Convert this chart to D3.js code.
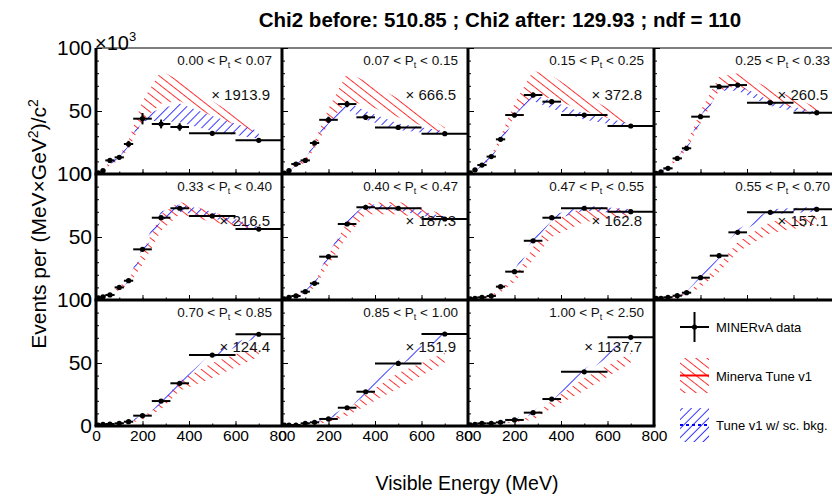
<!DOCTYPE html>
<html lang="en">
<head>
<meta charset="utf-8">
<title>Chi2 panels</title>
<script src="https://cdn.jsdelivr.net/npm/d3@7"></script>
<style>
  body { margin: 0; background: #fff; }
  svg { font-family: "Liberation Sans", Arial, Helvetica, sans-serif; }
</style>
</head>
<body>
<script>
// bins in visible energy (MeV)
var binEdges = [0, 20, 40, 80, 120, 160, 240, 320, 400, 600, 800];
var binCenters = [10, 30, 60, 100, 140, 200, 280, 360, 500, 700];

var ptLow  = ["0.00", "0.07", "0.15", "0.25", "0.33", "0.40", "0.47", "0.55", "0.70", "0.85", "1.00"];
var ptHigh = ["0.07", "0.15", "0.25", "0.33", "0.40", "0.47", "0.55", "0.70", "0.85", "1.00", "2.50"];
var scaleFactors = ["1913.9", "666.5", "372.8", "260.5", "216.5", "187.3", "162.8", "157.1", "124.4", "151.9", "1137.7"];

var xTicks = [0, 200, 400, 600, 800];
var yTicks = [0, 50, 100];

// data (scaled, x10^3)
var dataVals = [
  [1.0, 2.6, 10.8, 13.2, 23.8, 43.9, 39.7, 37.3, 32.3, 26.7],
  [0.8, 2.6, 7.9, 10.8, 24.6, 43.0, 55.5, 45.0, 37.0, 32.0],
  [1.0, 3.2, 7.1, 13.8, 27.5, 46.8, 62.7, 57.4, 46.8, 38.1],
  [0.5, 1.8, 4.5, 12.4, 20.4, 45.5, 69.3, 70.6, 56.6, 48.7],
  [1.8, 2.5, 4.0, 10.0, 15.3, 40.2, 65.3, 72.8, 66.7, 56.3],
  [1.0, 2.1, 3.2, 6.6, 13.2, 34.4, 60.3, 73.6, 72.8, 64.3],
  [1.0, 1.3, 2.1, 3.2, 10.6, 22.5, 47.0, 65.3, 72.8, 70.1],
  [1.3, 1.3, 2.1, 3.4, 5.8, 17.7, 35.2, 53.7, 69.6, 72.0],
  [0.8, 1.3, 1.6, 2.1, 3.4, 8.2, 19.8, 33.9, 56.3, 72.8],
  [0.8, 0.8, 0.8, 2.1, 2.9, 5.6, 14.5, 27.2, 49.7, 73.0],
  [1.0, 1.3, 2.1, 2.1, 2.9, 4.8, 10.6, 21.4, 43.0, 70.4]
];
var dataErrs = [
  [0.5, 1.2, 1.5, 1.5, 2.5, 4.5, 3.5, 3.0, 1.5, 1.5],
  [0.4, 1.0, 1.2, 1.2, 2.0, 2.5, 2.5, 2.0, 1.2, 1.2],
  [0.4, 0.8, 1.0, 1.2, 1.5, 1.8, 2.0, 1.5, 1.0, 1.0],
  [0.3, 0.6, 0.8, 1.0, 1.2, 1.5, 1.5, 1.2, 1.0, 1.0],
  [0.3, 0.6, 0.8, 1.0, 1.2, 1.5, 1.5, 1.2, 1.0, 1.0],
  [0.3, 0.6, 0.8, 1.0, 1.2, 1.5, 1.5, 1.2, 1.0, 1.0],
  [0.3, 0.5, 0.7, 0.8, 1.0, 1.3, 1.5, 1.2, 1.0, 1.0],
  [0.3, 0.5, 0.7, 0.8, 1.0, 1.3, 1.5, 1.2, 1.0, 1.0],
  [0.3, 0.5, 0.6, 0.7, 0.9, 1.2, 1.4, 1.2, 1.0, 1.0],
  [0.3, 0.5, 0.6, 0.7, 0.9, 1.2, 1.4, 1.2, 1.0, 1.0],
  [0.3, 0.5, 0.6, 0.7, 0.9, 1.2, 1.4, 1.2, 1.0, 1.0]
];

// Minerva Tune v1 band (low / high edge)
var tuneLo = [
  [0.5, 2.0, 7.0, 11.0, 20.0, 42.0, 56.0, 58.0, 46.0, 32.0],
  [0.5, 2.0, 6.0, 9.0, 20.0, 40.0, 58.0, 55.0, 45.0, 32.0],
  [0.6, 2.5, 6.0, 12.0, 25.0, 46.0, 62.0, 60.0, 50.0, 39.0],
  [0.3, 1.5, 4.0, 11.0, 19.0, 40.0, 66.0, 70.0, 57.0, 48.0],
  [1.0, 2.0, 3.5, 8.0, 12.0, 28.0, 55.0, 68.0, 62.0, 55.0],
  [0.6, 1.5, 2.5, 5.5, 10.0, 28.0, 50.0, 68.0, 68.0, 62.0],
  [0.5, 1.0, 1.5, 2.5, 6.0, 14.0, 32.0, 50.0, 62.0, 66.0],
  [0.8, 1.0, 1.5, 2.5, 4.0, 10.0, 22.0, 38.0, 53.0, 60.0],
  [0.5, 0.8, 1.0, 1.5, 2.0, 5.0, 13.0, 28.0, 38.0, 55.0],
  [0.4, 0.5, 0.6, 1.2, 1.5, 3.0, 8.0, 16.0, 30.0, 50.0],
  [0.5, 0.8, 1.0, 1.2, 1.5, 3.0, 5.0, 14.0, 28.0, 50.0]
];
var tuneHi = [
  [1.5, 3.5, 10.0, 14.0, 27.0, 58.0, 82.0, 74.0, 58.0, 35.0],
  [1.2, 3.2, 9.0, 12.0, 26.0, 52.0, 80.0, 74.0, 60.0, 37.0],
  [1.2, 3.5, 8.0, 15.0, 30.0, 56.0, 82.0, 78.0, 62.0, 43.0],
  [0.8, 2.5, 6.0, 14.0, 24.0, 50.0, 77.0, 80.0, 68.0, 53.0],
  [1.8, 3.0, 5.0, 11.0, 16.0, 38.0, 68.0, 78.0, 70.0, 58.0],
  [1.2, 2.5, 3.8, 7.5, 14.0, 36.0, 62.0, 77.0, 78.0, 68.0],
  [1.0, 1.6, 2.5, 3.5, 9.0, 18.0, 42.0, 62.0, 74.0, 72.0],
  [1.3, 1.5, 2.2, 3.5, 5.5, 14.0, 28.0, 46.0, 62.0, 68.0],
  [0.9, 1.2, 1.5, 2.2, 3.0, 7.0, 18.0, 36.0, 50.0, 64.0],
  [0.8, 0.9, 1.0, 2.0, 2.5, 5.0, 12.0, 25.0, 42.0, 58.0],
  [0.9, 1.2, 1.6, 1.8, 2.5, 4.0, 8.0, 20.0, 38.0, 58.0]
];

// Tune v1 w/ sc. bkg. band (low / high edge)
var bkgLo = [
  [0.8, 2.2, 8.0, 11.0, 22.0, 42.0, 42.0, 41.0, 34.0, 28.0],
  [0.6, 2.0, 7.0, 10.0, 22.0, 40.0, 51.0, 43.0, 35.0, 31.0],
  [0.6, 2.5, 6.0, 12.0, 25.0, 43.0, 58.0, 52.0, 43.0, 37.0],
  [0.3, 1.5, 4.0, 11.0, 19.0, 41.0, 66.0, 66.0, 54.0, 46.0],
  [1.2, 2.0, 3.5, 9.0, 14.0, 36.0, 63.0, 70.0, 65.0, 55.0],
  [0.8, 1.8, 2.8, 6.0, 12.0, 33.0, 59.0, 72.0, 71.0, 63.0],
  [0.7, 1.1, 1.8, 2.8, 9.0, 21.0, 45.0, 63.0, 71.0, 68.0],
  [1.0, 1.1, 1.8, 3.0, 5.0, 16.0, 33.0, 52.0, 68.0, 70.0],
  [0.6, 1.0, 1.3, 1.8, 3.0, 7.0, 17.0, 32.0, 54.0, 71.0],
  [0.5, 0.6, 0.7, 1.8, 2.5, 5.0, 13.0, 25.0, 47.0, 71.0],
  [0.6, 1.0, 1.7, 1.8, 2.5, 4.3, 9.5, 20.0, 41.0, 68.0]
];
var bkgHi = [
  [1.2, 3.2, 10.0, 13.0, 25.0, 46.0, 52.0, 56.0, 46.0, 34.0],
  [1.0, 3.0, 9.0, 12.0, 25.0, 46.0, 57.0, 50.0, 40.0, 34.0],
  [1.2, 3.5, 8.0, 15.0, 29.0, 47.0, 63.0, 58.0, 48.0, 40.0],
  [0.8, 2.3, 5.5, 13.5, 22.0, 46.0, 70.0, 71.0, 58.0, 49.0],
  [2.0, 3.0, 5.0, 11.0, 17.0, 42.0, 70.0, 76.0, 70.0, 58.0],
  [1.2, 2.5, 3.8, 7.5, 15.0, 37.0, 63.0, 76.0, 75.0, 66.0],
  [1.1, 1.5, 2.4, 3.6, 12.0, 24.0, 49.0, 67.0, 75.0, 72.0],
  [1.4, 1.5, 2.3, 3.7, 6.5, 19.0, 37.0, 56.0, 72.0, 74.0],
  [0.9, 1.4, 1.7, 2.3, 3.8, 9.0, 21.0, 35.0, 58.0, 74.0],
  [0.9, 0.9, 1.0, 2.3, 3.2, 6.5, 16.0, 29.0, 52.0, 75.0],
  [1.0, 1.4, 2.3, 2.3, 3.2, 5.3, 11.5, 23.0, 45.0, 72.0]
];

var w = 832, h = 496;
var left0 = 96, top0 = 48, colW = 186, rowH = 126;

var svg = d3.select("body").append("svg")
    .attr("width", w)
    .attr("height", h);

var defs = svg.append("defs");

// hatch patterns like ROOT fill styles
function hatch(id, color, angle, gap) {
  var p = defs.append("pattern")
      .attr("id", id)
      .attr("patternUnits", "userSpaceOnUse")
      .attr("width", gap)
      .attr("height", gap)
      .attr("patternTransform", "rotate(" + angle + ")");
  p.append("line")
      .attr("x1", gap / 2).attr("y1", 0)
      .attr("x2", gap / 2).attr("y2", gap)
      .attr("stroke", color)
      .attr("stroke-width", 1);
}
hatch("hatchRed", "#ff3030", -52, 6.8);
hatch("hatchBlue", "#3030ff", 45, 6.4);

var x = d3.scaleLinear().domain([0, 800]).range([0, colW]);
var y = d3.scaleLinear().domain([0, 100]).range([rowH, 0]);

var band = d3.area()
    .x(function(d) { return x(d.e); })
    .y0(function(d) { return y(d.lo); })
    .y1(function(d) { return y(d.hi); });

svg.append("clipPath").attr("id", "panelClip")
  .append("rect").attr("x", 0).attr("y", 0).attr("width", colW).attr("height", rowH);

for (var i = 0; i < dataVals.length; i++) {
  var col = i % 4, row = Math.floor(i / 4);
  var g = svg.append("g")
      .attr("transform", "translate(" + (left0 + col * colW) + "," + (top0 + row * rowH) + ")");

  var plot = g.append("g").attr("clip-path", "url(#panelClip)");

  var redPts = binCenters.map(function(e, k) { return {e: e, lo: tuneLo[i][k], hi: tuneHi[i][k]}; });
  var bluePts = binCenters.map(function(e, k) { return {e: e, lo: bkgLo[i][k], hi: bkgHi[i][k]}; });

  plot.append("path").datum(redPts)
      .attr("d", band)
      .attr("fill", "url(#hatchRed)");
  plot.append("path").datum(bluePts)
      .attr("d", band)
      .attr("fill", "url(#hatchBlue)");

  // pt bin label
  var lab = g.append("text")
      .attr("x", colW - 10)
      .attr("y", 17)
      .attr("text-anchor", "end")
      .attr("font-size", 13.5)
      .attr("fill", "#111");
  lab.append("tspan").text(ptLow[i] + " < P");
  lab.append("tspan").attr("font-size", 9).attr("dy", 3).text("t");
  lab.append("tspan").attr("dy", -3).text(" < " + ptHigh[i]);

  g.append("text")
      .attr("x", colW - 12)
      .attr("y", 52)
      .attr("text-anchor", "end")
      .attr("font-size", 15)
      .attr("fill", "#111")
      .text("\u00d7 " + scaleFactors[i]);

  // data points
  var pts = binCenters.map(function(e, k) {
    return {e: e, x0: binEdges[k], x1: binEdges[k + 1], v: dataVals[i][k], err: dataErrs[i][k]};
  });
  var dp = plot.selectAll("g.pt").data(pts).enter().append("g").attr("class", "pt");
  dp.append("line")
      .attr("x1", function(d) { return x(d.x0); })
      .attr("x2", function(d) { return x(d.x1); })
      .attr("y1", function(d) { return y(d.v); })
      .attr("y2", function(d) { return y(d.v); })
      .attr("stroke", "#000").attr("stroke-width", 2);
  dp.append("line")
      .attr("x1", function(d) { return x(d.e); })
      .attr("x2", function(d) { return x(d.e); })
      .attr("y1", function(d) { return y(d.v - d.err); })
      .attr("y2", function(d) { return y(d.v + d.err); })
      .attr("stroke", "#000").attr("stroke-width", 2);
  dp.append("circle")
      .attr("cx", function(d) { return x(d.e); })
      .attr("cy", function(d) { return y(d.v); })
      .attr("r", 2.6)
      .attr("fill", "#000");

  // inward ticks
  var yMinor = g.append("g").call(d3.axisRight(y).tickValues(d3.range(0, 101, 10)).tickSize(3).tickFormat(""));
  var yMajor = g.append("g").call(d3.axisRight(y).tickValues(yTicks).tickSize(6).tickFormat(""));
  var xMinor = g.append("g").attr("transform", "translate(0," + rowH + ")")
      .call(d3.axisTop(x).tickValues(d3.range(0, 801, 100)).tickSize(2.5).tickFormat(""));
  var xMajor = g.append("g").attr("transform", "translate(0," + rowH + ")")
      .call(d3.axisTop(x).tickValues(xTicks).tickSize(5).tickFormat(""));
  [yMinor, yMajor, xMinor, xMajor].forEach(function(a) {
    a.select(".domain").remove();
    a.selectAll("line").attr("stroke", "#000");
  });

  if (col === 0) {
    var yl = g.append("g").call(d3.axisLeft(y).tickValues(yTicks).tickSize(0).tickPadding(4));
    yl.select(".domain").remove();
    yl.selectAll("text").attr("font-size", 21).attr("font-family", "Liberation Sans, Arial, sans-serif").attr("fill", "#000");
  }
  if (row === 2) {
    var xl = g.append("g").attr("transform", "translate(0," + rowH + ")")
        .call(d3.axisBottom(x).tickValues(xTicks).tickSize(0).tickPadding(4));
    xl.select(".domain").remove();
    xl.selectAll("text").attr("font-size", 15.5).attr("font-family", "Liberation Sans, Arial, sans-serif").attr("fill", "#000");
  }
}

// frames
var frame = svg.append("g").attr("stroke", "#000").attr("fill", "none");
frame.append("line").attr("x1", left0).attr("x2", w).attr("y1", top0).attr("y2", top0).attr("stroke-width", 1.2);
[1, 2].forEach(function(r) {
  frame.append("line").attr("x1", left0 - 1.5).attr("x2", w)
      .attr("y1", top0 + r * rowH).attr("y2", top0 + r * rowH).attr("stroke-width", 3);
});
frame.append("line").attr("x1", left0 - 1.5).attr("x2", left0 + 3 * colW + 1.5)
    .attr("y1", top0 + 3 * rowH).attr("y2", top0 + 3 * rowH).attr("stroke-width", 3);
[0, 1, 2, 3].forEach(function(c) {
  frame.append("line").attr("x1", left0 + c * colW).attr("x2", left0 + c * colW)
      .attr("y1", top0).attr("y2", top0 + 3 * rowH).attr("stroke-width", 3);
});

// exponent
var ex = svg.append("text").attr("x", 95).attr("y", 50).attr("font-size", 20).attr("fill", "#000");
ex.append("tspan").text("\u00d710");
ex.append("tspan").attr("font-size", 13).attr("dy", -9).text("3");

// titles
svg.append("text")
    .attr("x", 500).attr("y", 27)
    .attr("text-anchor", "middle")
    .attr("font-size", 20.5)
    .attr("font-weight", "bold")
    .text("Chi2 before: 510.85 ; Chi2 after: 129.93 ; ndf = 110");

svg.append("text")
    .attr("x", 467).attr("y", 490)
    .attr("text-anchor", "middle")
    .attr("font-size", 19.5)
    .text("Visible Energy (MeV)");

var yt = svg.append("text")
    .attr("transform", "translate(46,224) rotate(-90)")
    .attr("text-anchor", "middle")
    .attr("font-size", 21);
yt.append("tspan").text("Events per (MeV\u00d7GeV");
yt.append("tspan").attr("font-size", 14).attr("dy", -8).text("2");
yt.append("tspan").attr("dy", 8).text(")/c");
yt.append("tspan").attr("font-size", 14).attr("dy", -8).text("2");

// legend
var leg = svg.append("g").attr("font-size", 13).attr("fill", "#000");
leg.append("line").attr("x1", 680).attr("x2", 709).attr("y1", 327).attr("y2", 327).attr("stroke", "#000").attr("stroke-width", 2);
leg.append("line").attr("x1", 694.5).attr("x2", 694.5).attr("y1", 312).attr("y2", 342).attr("stroke", "#000").attr("stroke-width", 2);
leg.append("circle").attr("cx", 694.5).attr("cy", 327).attr("r", 2.6).attr("fill", "#000");
leg.append("text").attr("x", 716).attr("y", 332).text("MINERvA data");

leg.append("rect").attr("x", 680).attr("y", 358).attr("width", 29).attr("height", 35).attr("fill", "url(#hatchRed)");
leg.append("line").attr("x1", 680).attr("x2", 709).attr("y1", 375.5).attr("y2", 375.5).attr("stroke", "#ff0000").attr("stroke-width", 2);
leg.append("text").attr("x", 716).attr("y", 381).text("Minerva Tune v1");

leg.append("rect").attr("x", 680).attr("y", 408).attr("width", 29).attr("height", 34).attr("fill", "url(#hatchBlue)");
leg.append("line").attr("x1", 680).attr("x2", 709).attr("y1", 425).attr("y2", 425).attr("stroke", "#0000ff").attr("stroke-width", 2).attr("stroke-dasharray", "3,3");
leg.append("text").attr("x", 716).attr("y", 430).text("Tune v1 w/ sc. bkg.");
</script>
</body>
</html>
